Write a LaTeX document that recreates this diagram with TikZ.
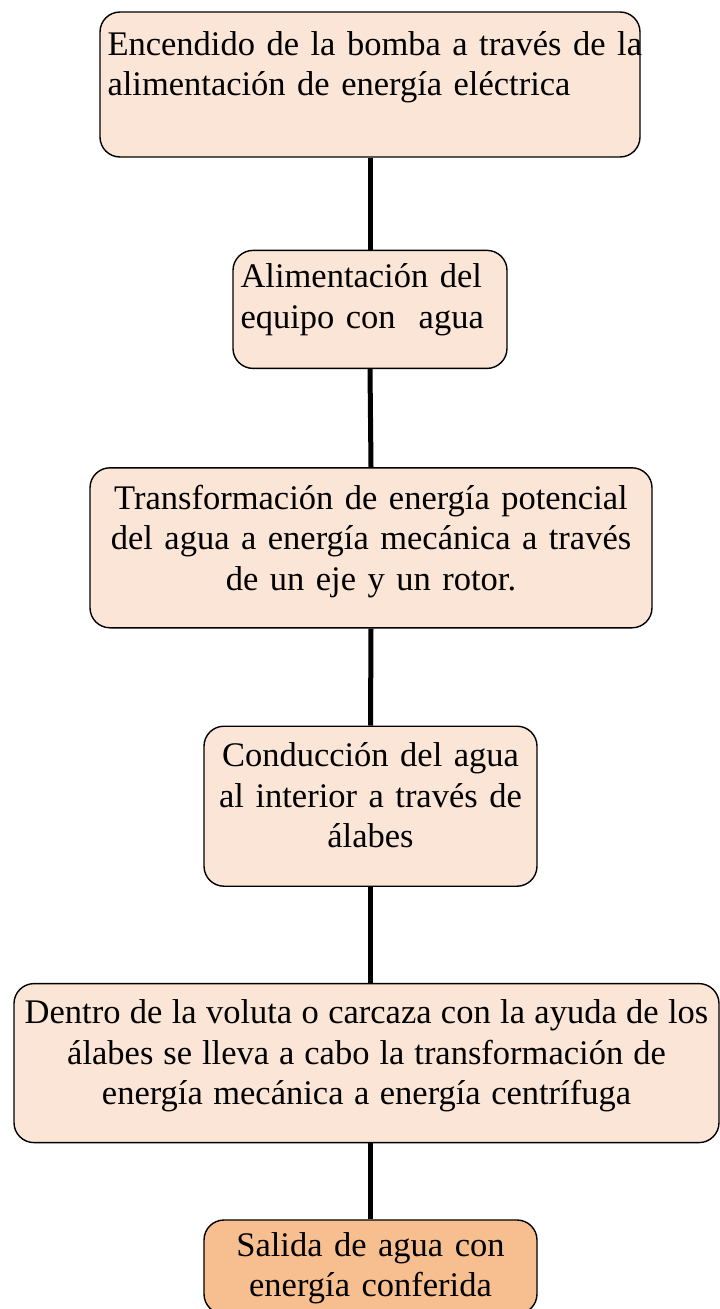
\documentclass[tikz,border=0pt]{standalone}
\usepackage{fontspec}
\setmainfont[WordSpace=0.8]{Liberation Serif}
\usepackage{tikz}
\usetikzlibrary{positioning}
\definecolor{pasoclaro}{HTML}{FBE5D6}
\definecolor{pasofinal}{HTML}{F7BF8F}
\tikzstyle{paso} = [
    rectangle, draw, line width=1.4pt, rounded corners=20pt,
    fill=pasoclaro, inner sep=0pt % box only, text goes on top
]
\tikzstyle{texto} = [
    inner sep=0pt, text width=760pt, font=\fontsize{34.5}{40.5}\selectfont
]
\tikzstyle{enlace} = [line width=5pt]

\begin{document}
\begin{tikzpicture}[x=1pt, y=-1pt]
        \useasboundingbox (0,0) rectangle (720,1309);

        % Boxes
        \node[paso, minimum width=540pt, minimum height=145pt] (p1) at (370,84.5) {};
        \node[paso, minimum width=274pt, minimum height=118pt] (p2) [below=92pt of p1] {};
        \node[paso, minimum width=562pt, minimum height=160pt] (p3) [below=98pt of p2, xshift=1pt] {};
        \node[paso, minimum width=333pt, minimum height=160pt] (p4) [below=97pt of p3, xshift=-0.5pt] {};
        \node[paso, minimum width=705pt, minimum height=159pt] (p5) [below=96pt of p4, xshift=-4pt] {};
        \node[paso, fill=pasofinal, minimum width=333pt, minimum height=94pt] (p6) [below=76pt of p5, xshift=4pt] {};

        % Texts
        \node[texto, align=left, anchor=base west] (t1) at ([xshift=8pt, yshift=-44pt]p1.north west) {
            Encendido de la bomba a través de la\\
            alimentación de energía eléctrica
        };
        \node[texto, align=left, anchor=base west] (t2) at ([xshift=8pt, yshift=-38pt]p2.north west) {
            Alimentación del\\
            equipo con~~agua
        };
        \node[texto, align=center, anchor=base] (t3) at ([yshift=-42pt]p3.north) {
            Transformación de energía potencial\\
            del agua a energía mecánica a través\\
            de un eje y un rotor.
        };
        \node[texto, align=center, anchor=base] (t4) at ([yshift=-41pt]p4.north) {
            Conducción del agua\\
            al interior a través de\\
            álabes
        };
        \node[texto, align=center, anchor=base] (t5) at ([yshift=-41pt]p5.north) {
            \spaceskip=8.8pt plus 1pt % tighter words, as in the source
            Dentro de la voluta o carcaza con la ayuda de los\\
            álabes se lleva a cabo la transformación de\\
            energía mecánica a energía centrífuga
        };
        \node[texto, align=center, anchor=base] (t6) at ([yshift=-37pt]p6.north) {
            Salida de agua con\\
            energía conferida
        };

        % Connectors
        \draw[enlace] (p1.south) -- (p2.north);
        \draw[enlace] (p2.south) -- (p3.north);
        \draw[enlace] (p3.south) -- (p4.north);
        \draw[enlace] (p4.south) -- (p4.south |- p5.north);
        \draw[enlace] (p6.north |- p5.south) -- (p6.north);

    \end{tikzpicture}
\end{document}
